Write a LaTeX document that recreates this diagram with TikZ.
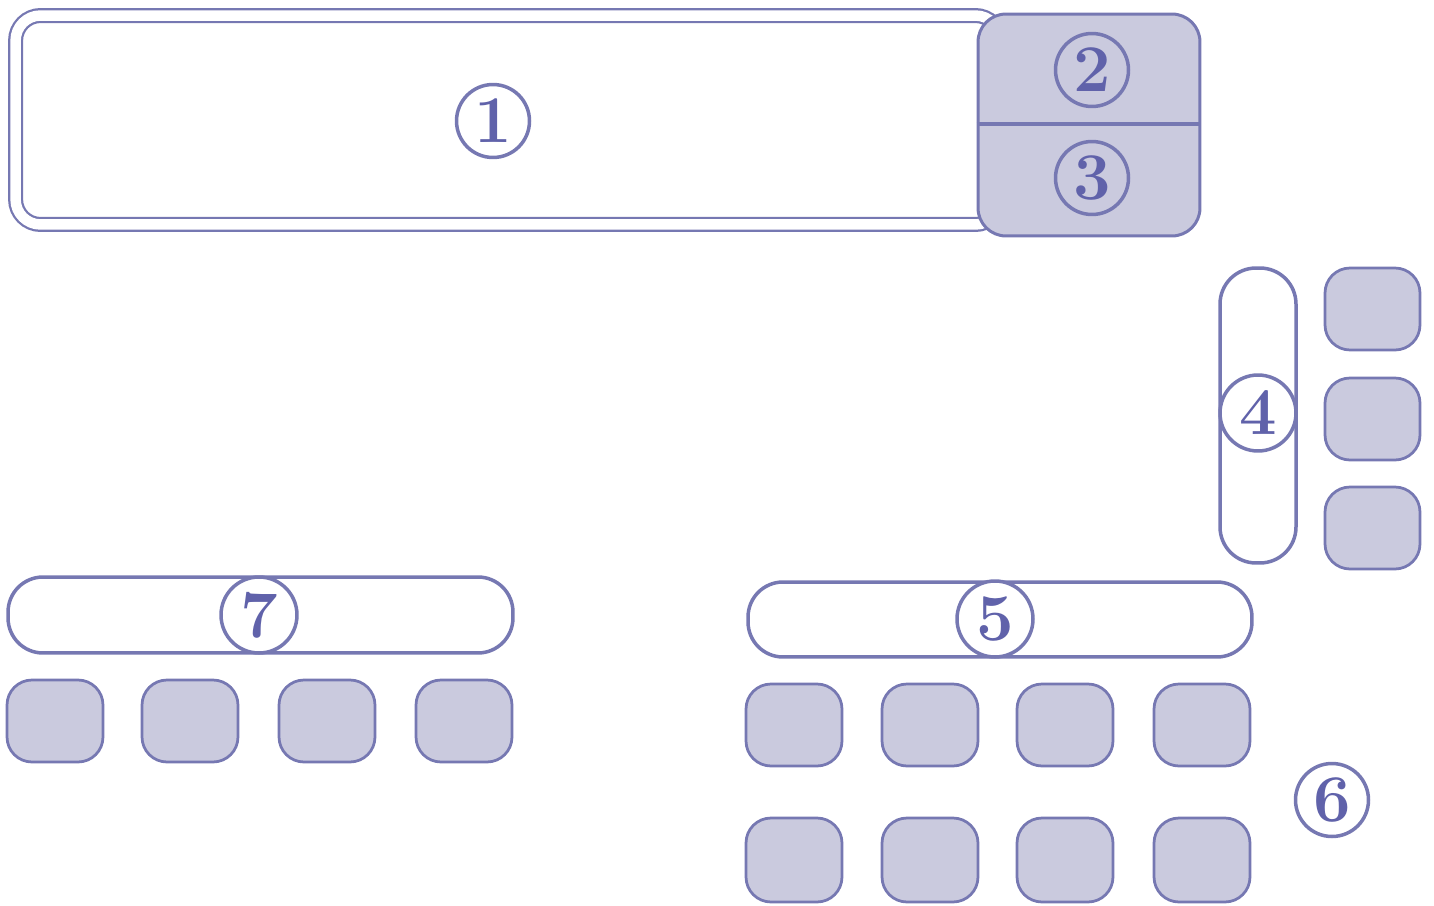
\documentclass[tikz,border=0pt]{standalone}
\usepackage{tikz}
\definecolor{ink}{RGB}{118,120,178}
\definecolor{digit}{RGB}{96,98,170}
\definecolor{shade}{RGB}{202,202,222}
\tikzset{
  px/.style={x=0.02cm,y=-0.02cm},
  frame/.style={draw=ink,line width=0.07cm,rounded corners=0.7cm,fill=white,inner sep=0pt},
  key/.style={draw=ink,line width=0.055cm,fill=shade,rounded corners=0.5cm,inner sep=0pt,minimum width=1.92cm,minimum height=1.64cm},
  num/.style={circle,draw=ink,line width=0.07cm,fill=white,minimum size=1.46cm,inner sep=0pt,text=digit,font=\fontsize{38}{38}\selectfont\bfseries},
  numclear/.style={num,fill=none},
}
\begin{document}
\begin{tikzpicture}[px]
\useasboundingbox (0,0) rectangle (1434,906);
% box 1 (double outline)
\node[draw=ink,line width=0.045cm,double=white,double distance=0.21cm,rounded corners=0.5cm,inner sep=0pt,minimum width=19.7cm,minimum height=4.18cm] (b1) at (508,120) {};
% shaded box 2/3
\node[key,line width=0.06cm,minimum width=4.44cm,minimum height=4.44cm,rounded corners=0.56cm] (b23) at (1089,125) {};
\draw[ink,line width=0.07cm] (b23.west |- 0,124) coordinate (dl) -- (b23.east |- 0,124) coordinate (dr);
\node[num] (n1) at (493,121) {1};
\node[numclear] (n2) at (1092,70) {2};
\node[numclear] (n3) at (1092,178) {3};
% box 4
\node[frame,minimum width=1.52cm,minimum height=5.9cm,rounded corners=0.72cm] (b4) at (1258,415.5) {};
\node[num,minimum size=1.52cm] (n4) at (1258,413) {4};
\node[key,minimum width=1.9cm] (r1) at (1372.5,309) {};
\node[key,minimum width=1.9cm] (r2) at (1372.5,419) {};
\node[key,minimum width=1.9cm] (r3) at (1372.5,528) {};
% box 7
\node[frame,minimum width=10.1cm,minimum height=1.52cm] (b7) at (260.5,615) {};
\node[num,minimum size=1.52cm] (n7) at (259,615) {7};
\node[key] (s1) at (55,721) {};
\node[key] (s2) at (190,721) {};
\node[key] (s3) at (327,721) {};
\node[key] (s4) at (464,721) {};
% box 5
\node[frame,minimum width=10.08cm,minimum height=1.5cm] (b5) at (1000,619.5) {};
\node[num,minimum size=1.52cm] (n5) at (995,619) {5};
\node[key] (t1) at (794,725) {};
\node[key] (t2) at (930,725) {};
\node[key] (t3) at (1065,725) {};
\node[key] (t4) at (1202,725) {};
\node[key,minimum height=1.68cm] (u1) at (794,860) {};
\node[key,minimum height=1.68cm] (u2) at (930,860) {};
\node[key,minimum height=1.68cm] (u3) at (1065,860) {};
\node[key,minimum height=1.68cm] (u4) at (1202,860) {};
\node[num] (n6) at (1332,800) {6};
\end{tikzpicture}
\end{document}
